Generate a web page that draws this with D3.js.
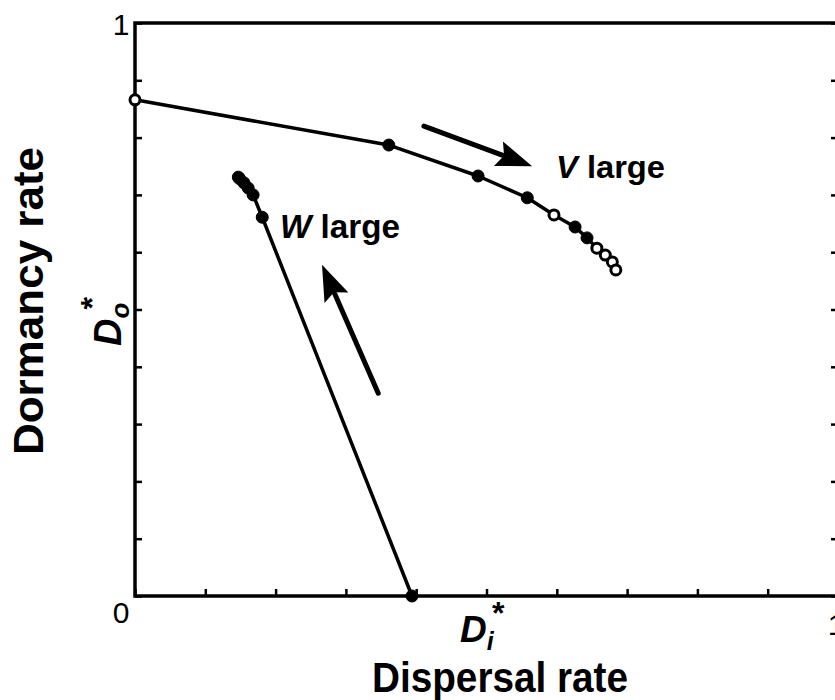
<!DOCTYPE html>
<html>
  <head>
    <meta http-equiv="content-type" content="text/html; charset=utf-8" />
    <title>Dormancy vs dispersal</title>
    <script type="text/javascript" src="https://cdn.jsdelivr.net/npm/d3@7"></script>
  </head>
  <body style="margin:0;background:#fff;overflow:hidden">
    <script type="text/javascript">
// values (x = dispersal rate, y = dormancy rate)
var vX = [0, 0.361, 0.488, 0.558, 0.596, 0.626, 0.643, 0.657, 0.669, 0.679, 0.684];
var vY = [0.866, 0.787, 0.733, 0.695, 0.665, 0.644, 0.625, 0.607, 0.595, 0.583, 0.569];
var vOpen = [1, 0, 0, 0, 1, 0, 0, 1, 1, 1, 1];

var wX = [0.394, 0.181, 0.168, 0.161, 0.155, 0.149, 0.147];
var wY = [0, 0.661, 0.700, 0.712, 0.721, 0.728, 0.731];
var wOpen = [0, 0, 0, 0, 0, 0, 0];

var xTicks = [0, 0.1, 0.2, 0.3, 0.4, 0.5, 0.6, 0.7, 0.8, 0.9, 1];
var yTicks = [0, 0.1, 0.2, 0.3, 0.4, 0.5, 0.6, 0.7, 0.8, 0.9, 1];
var tickLabels = ["0", "1"];

// arrows: [tailX, tailY, tipX, tipY]
var arrowV = [0.411, 0.820, 0.565, 0.750];
var arrowW = [0.346, 0.354, 0.266, 0.578];

var w = 835, h = 700,
    mLeft = 135, mRight = 838, mTop = 23, mBottom = 596,
    font = "'Liberation Sans', Arial, Helvetica, sans-serif";

var svg = d3.select("body").append("svg")
  .attr("width", w).attr("height", h);

var x = d3.scaleLinear().domain([0, 1]).range([mLeft, mRight]);
var y = d3.scaleLinear().domain([0, 1]).range([mBottom, mTop]);

// axes: ticks pointing inward, no labels from d3
var xAxis = d3.axisTop(x).tickValues(xTicks).tickSize(7).tickFormat("");
var yAxis = d3.axisRight(y).tickValues(yTicks).tickSize(7).tickFormat("");
var yAxisR = d3.axisLeft(y).tickValues(yTicks).tickSize(7).tickFormat("");

function styleAxis(g) {
  g.select(".domain").remove();
  g.selectAll(".tick line").attr("stroke", "#000").attr("stroke-width", 2.5);
}

svg.append("g").attr("transform", "translate(0," + mBottom + ")").call(xAxis).call(styleAxis);
svg.append("g").attr("transform", "translate(" + mLeft + ",0)").call(yAxis).call(styleAxis);
svg.append("g").attr("transform", "translate(" + mRight + ",0)").call(yAxisR).call(styleAxis);

// frame
svg.append("rect")
  .attr("x", x(0)).attr("y", y(1))
  .attr("width", x(1) - x(0)).attr("height", y(0) - y(1))
  .attr("fill", "none").attr("stroke", "#000").attr("stroke-width", 3.5);

// tick labels
svg.append("text").attr("x", x(0) - 14).attr("y", y(1) + 12)
  .attr("text-anchor", "middle").attr("font-family", font).attr("font-size", 30)
  .text(tickLabels[1]);
svg.append("text").attr("x", x(0) - 14).attr("y", y(0) + 27)
  .attr("text-anchor", "middle").attr("font-family", font).attr("font-size", 30)
  .text(tickLabels[0]);
svg.append("text").attr("x", x(1) - 2).attr("y", y(0) + 39)
  .attr("text-anchor", "middle").attr("font-family", font).attr("font-size", 30)
  .text(tickLabels[1]);

// curves
var line = d3.line().x(function(d) { return x(d[0]); }).y(function(d) { return y(d[1]); });

function drawSeries(xs, ys, opens) {
  var pts = xs.map(function(v, i) { return [v, ys[i], opens[i]]; });
  svg.append("path").datum(pts)
    .attr("d", line)
    .attr("fill", "none").attr("stroke", "#000").attr("stroke-width", 3.5)
    .attr("stroke-linejoin", "round");
  svg.append("g").selectAll("circle")
    .data(pts)
    .enter()
      .append("circle")
      .attr("cx", function(d) { return x(d[0]); })
      .attr("cy", function(d) { return y(d[1]); })
      .attr("r", function(d) { return d[2] ? 5 : 6; })
      .attr("fill", function(d) { return d[2] ? "#fff" : "#000"; })
      .attr("stroke", "#000")
      .attr("stroke-width", function(d) { return d[2] ? 3 : 1; });
}

drawSeries(vX, vY, vOpen);
drawSeries(wX, wY, wOpen);

// arrows
function drawArrow(a) {
  var x0 = x(a[0]), y0 = y(a[1]), x1 = x(a[2]), y1 = y(a[3]);
  var dx = x1 - x0, dy = y1 - y0, len = Math.sqrt(dx * dx + dy * dy);
  var ux = dx / len, uy = dy / len, headL = 36, headW = 13;
  var bx = x1 - ux * headL, by = y1 - uy * headL;
  svg.append("line")
    .attr("x1", x0).attr("y1", y0).attr("x2", bx + ux * 4).attr("y2", by + uy * 4)
    .attr("stroke", "#000").attr("stroke-width", 5).attr("stroke-linecap", "round");
  svg.append("path")
    .attr("d", "M" + x1 + "," + y1 +
      "L" + (bx - uy * headW) + "," + (by + ux * headW) +
      "L" + (bx + ux * 6) + "," + (by + uy * 6) +
      "L" + (bx + uy * headW) + "," + (by - ux * headW) + "Z")
    .attr("fill", "#000");
}
drawArrow(arrowV);
drawArrow(arrowW);

// in-plot labels
var vl = svg.append("text").attr("x", 556).attr("y", 178)
  .attr("font-family", font).attr("font-size", 32).attr("font-weight", "bold")
  .attr("textLength", 109).attr("lengthAdjust", "spacingAndGlyphs");
vl.append("tspan").attr("font-style", "italic").text("V");
vl.append("tspan").text(" large");

var wl = svg.append("text").attr("x", 280).attr("y", 238)
  .attr("font-family", font).attr("font-size", 33).attr("font-weight", "bold")
  .attr("textLength", 120).attr("lengthAdjust", "spacingAndGlyphs");
wl.append("tspan").attr("font-style", "italic").text("W");
wl.append("tspan").text(" large");

// x axis title
var di = svg.append("text").attr("x", 460).attr("y", 642)
  .attr("font-family", font).attr("font-weight", "bold").attr("font-style", "italic")
  .attr("font-size", 37);
di.append("tspan").text("D");
di.append("tspan").attr("font-size", 25).attr("dy", 8).text("i");
di.append("tspan").attr("font-size", 32).attr("dy", -26).attr("dx", -3).text("*");

svg.append("text").attr("x", 500).attr("y", 692)
  .attr("text-anchor", "middle")
  .attr("font-family", font).attr("font-weight", "bold").attr("font-size", 42)
  .attr("textLength", 256).attr("lengthAdjust", "spacingAndGlyphs")
  .text("Dispersal rate");

// y axis title
svg.append("text")
  .attr("transform", "translate(43,301) rotate(-90)")
  .attr("text-anchor", "middle")
  .attr("font-family", font).attr("font-weight", "bold").attr("font-size", 43)
  .attr("textLength", 308).attr("lengthAdjust", "spacingAndGlyphs")
  .text("Dormancy rate");

var dout = svg.append("text")
  .attr("transform", "translate(121,346) rotate(-90)")
  .attr("font-family", font).attr("font-weight", "bold").attr("font-style", "italic")
  .attr("font-size", 38);
dout.append("tspan").text("D");
dout.append("tspan").attr("font-size", 26).attr("dy", 8).text("o");
dout.append("tspan").attr("font-size", 32).attr("dy", -26).attr("dx", -8).text("*");
    </script>
  </body>
</html>
